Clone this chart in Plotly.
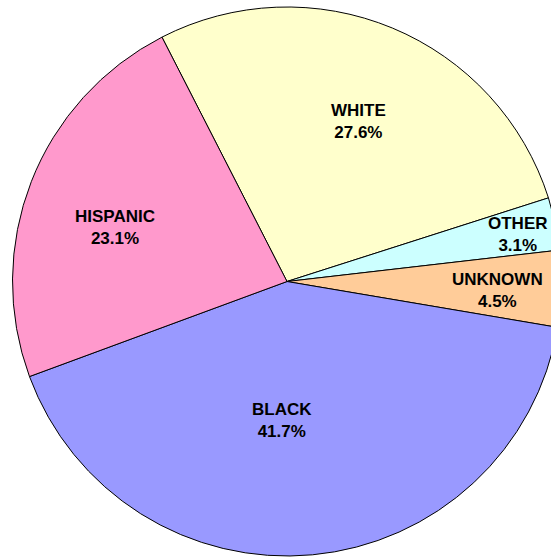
import math
import plotly.graph_objects as go

# Share of cases by race/ethnicity (percent), in clockwise drawing order
categories = ["WHITE", "OTHER", "UNKNOWN", "BLACK", "HISPANIC"]
shares = [27.6, 3.1, 4.5, 41.7, 23.1]
slice_colors = ["#FFFFCC", "#CCFFFF", "#FFCC99", "#9999FF", "#FF99CC"]

# Label placement: fraction of radius along the slice bisector, plus a small angular nudge (deg)
label_radius = [0.637, 0.86, 0.769, 0.506, 0.656]
label_nudge = [1.5, 0.7, 1.0, 7.3, -4.0]

ROTATION = -27.1  # first slice starts just left of 12 o'clock
WIDTH, HEIGHT = 574, 563
M_TOP, M_BOT = 7, 7
PLOT_W = WIDTH
PLOT_H = HEIGHT - M_TOP - M_BOT
RADIUS = min(PLOT_W, PLOT_H) / 2
CX, CY = PLOT_W / 2, PLOT_H / 2

fig = go.Figure(
    go.Pie(
        labels=categories,
        values=shares,
        sort=False,
        direction="clockwise",
        rotation=ROTATION,
        marker=dict(colors=slice_colors, line=dict(color="#000000", width=1)),
        textinfo="none",
        hoverinfo="skip",
        showlegend=False,
        domain=dict(x=[0, 1], y=[0, 1]),
    )
)

# Category / percentage labels positioned from each slice's mid angle
total = sum(shares)
start = ROTATION
annotations = []
for name, v, rf, nudge in zip(categories, shares, label_radius, label_nudge):
    span = 360.0 * v / total
    mid = math.radians(start + span / 2 + nudge)
    start += span
    px = CX + rf * RADIUS * math.sin(mid)
    py = CY - rf * RADIUS * math.cos(mid)
    annotations.append(
        dict(
            x=px / PLOT_W,
            y=1 - py / PLOT_H,
            xref="paper",
            yref="paper",
            text=f"<b>{name}</b><br><b>{v:.1f}%</b>",
            showarrow=False,
            xanchor="center",
            yanchor="middle",
            align="center",
            font=dict(family="Arial, Liberation Sans, sans-serif", size=17, color="#000000"),
        )
    )

fig.update_layout(
    width=WIDTH,
    height=HEIGHT,
    margin=dict(l=0, r=0, t=M_TOP, b=M_BOT, pad=0),
    paper_bgcolor="#FFFFFF",
    plot_bgcolor="#FFFFFF",
    annotations=annotations,
    font=dict(family="Arial, Liberation Sans, sans-serif"),
)

fig.write_html("out.html", config={"displayModeBar": False})
